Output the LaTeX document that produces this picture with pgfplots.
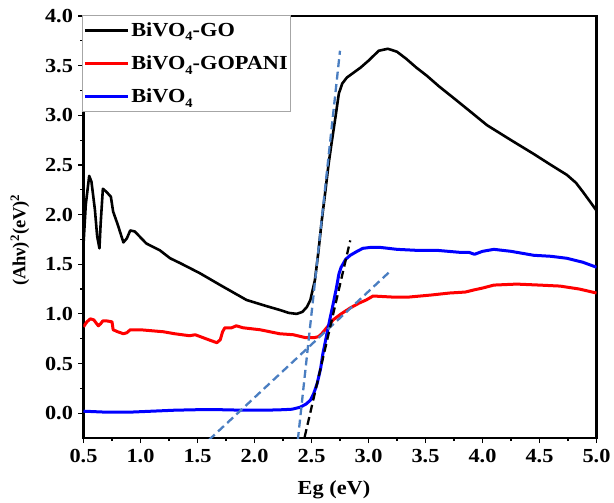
\documentclass[border=0pt]{standalone}
\usepackage{fontspec}
\setmainfont{Liberation Serif}[FakeStretch=1.12]
\newfontfamily\ylabfont{Liberation Serif}
\usepackage{pgfplots}
\pgfplotsset{compat=1.18}
\definecolor{fitblue}{RGB}{74,126,193}
\newcommand\sub[1]{\raisebox{-0.5ex}{\fontsize{13}{13}\selectfont #1}}
\begin{document}
\begin{tikzpicture}
\begin{axis}[
  scale only axis, width=513bp, height=422bp,
  xmin=0.5, xmax=5.0, ymin=-0.25, ymax=4.0,
  xtick={0.5,1.0,1.5,2.0,2.5,3.0,3.5,4.0,4.5,5.0},
  ytick={0,0.5,1.0,1.5,2.0,2.5,3.0,3.5,4.0},
  minor x tick num=1, minor y tick num=1,
  tick align=outside, xtick pos=bottom, ytick pos=left,
  major tick length=5bp, minor tick length=3bp,
  every tick/.style={line width=1.2bp, black},
  axis line style={line width=2.3bp},
  /pgf/number format/assume math mode=true,
  /pgf/number format/.cd, fixed, fixed zerofill, precision=1, /pgfplots/.cd,
  tick label style={font=\fontsize{20}{20}\selectfont\bfseries},
  yticklabel style={xshift=-2bp},
  xticklabel style={yshift=-3bp},
  xlabel={Eg (eV)},
  ylabel={\ylabfont\fontsize{18.5}{18.5}\selectfont\bfseries (Ahν)\textsuperscript{2}(eV)\textsuperscript{2}},
  every axis x label/.style={at={(rel axis cs:0.4883,-0.1232)}, anchor=center, font=\fontsize{20}{20}\selectfont\bfseries},
  every axis y label/.style={at={(rel axis cs:-0.1238,0.469)}, anchor=center, rotate=90},
  legend style={at={(rel axis cs:-0.003,1.002)}, anchor=north west, draw=gray!70, line width=0.8bp, fill=white,
    font=\fontsize{20}{20}\selectfont\bfseries, inner xsep=1bp, inner ysep=5bp,
    /tikz/every row/.style={}, row sep=14bp,
    cells={anchor=west}},
  legend image code/.code={\draw[#1] (0bp,0bp) -- (43bp,0bp);},
]
\coordinate (sw) at (rel axis cs:0,0);
\coordinate (ne) at (rel axis cs:1,1);
\addplot[black, line width=2.6bp, line join=round] coordinates {
(0.50,1.70)(0.52,2.10)(0.55,2.39)(0.57,2.33)(0.60,2.05)(0.62,1.78)(0.64,1.66)(0.65,1.90)(0.67,2.26)(0.70,2.23)(0.74,2.18)(0.76,2.03)(0.80,1.90)(0.85,1.72)(0.88,1.76)(0.91,1.84)(0.95,1.83)(1.00,1.77)(1.05,1.71)(1.10,1.68)(1.17,1.64)(1.26,1.56)(1.35,1.51)(1.52,1.41)(1.70,1.29)(1.93,1.14)(2.10,1.08)(2.22,1.04)(2.30,1.01)(2.37,1.00)(2.42,1.02)(2.46,1.07)(2.49,1.14)(2.53,1.34)(2.56,1.62)(2.59,1.94)(2.62,2.22)(2.65,2.51)(2.68,2.75)(2.71,2.98)(2.74,3.22)(2.77,3.32)(2.81,3.38)(2.87,3.43)(2.93,3.48)(3.00,3.55)(3.09,3.65)(3.17,3.67)(3.25,3.64)(3.33,3.57)(3.42,3.48)(3.51,3.40)(3.62,3.29)(3.74,3.18)(3.88,3.05)(4.04,2.90)(4.25,2.75)(4.45,2.61)(4.60,2.50)(4.74,2.40)(4.82,2.32)(4.88,2.23)(4.95,2.12)(5.00,2.04)
};
\addlegendentry{BiVO\sub{4}-GO}
\addplot[red, line width=3bp, line join=round] coordinates {
(0.50,0.87)(0.53,0.92)(0.56,0.95)(0.59,0.94)(0.63,0.88)(0.65,0.90)(0.67,0.93)(0.70,0.93)(0.75,0.92)(0.76,0.84)(0.80,0.82)(0.85,0.80)(0.88,0.81)(0.91,0.84)(1.00,0.84)(1.20,0.82)(1.30,0.80)(1.43,0.78)(1.48,0.79)(1.55,0.76)(1.62,0.73)(1.67,0.71)(1.70,0.74)(1.72,0.82)(1.74,0.86)(1.80,0.86)(1.84,0.88)(1.90,0.86)(2.05,0.84)(2.22,0.80)(2.34,0.79)(2.45,0.76)(2.52,0.76)(2.56,0.77)(2.59,0.80)(2.64,0.87)(2.69,0.94)(2.76,1.00)(2.84,1.06)(2.92,1.11)(2.98,1.14)(3.04,1.18)(3.20,1.17)(3.36,1.17)(3.55,1.19)(3.71,1.21)(3.85,1.22)(3.92,1.24)(4.00,1.26)(4.10,1.29)(4.30,1.30)(4.50,1.29)(4.68,1.28)(4.85,1.25)(5.00,1.21)
};
\addlegendentry{BiVO\sub{4}-GOPANI}
\addplot[blue, line width=3bp, line join=round] coordinates {
(0.50,0.02)(0.60,0.015)(0.70,0.01)(0.90,0.01)(1.10,0.02)(1.30,0.03)(1.50,0.035)(1.70,0.035)(1.90,0.03)(2.10,0.03)(2.25,0.035)(2.33,0.04)(2.40,0.06)(2.45,0.09)(2.49,0.13)(2.52,0.20)(2.55,0.30)(2.58,0.45)(2.60,0.60)(2.63,0.77)(2.66,0.94)(2.69,1.10)(2.72,1.27)(2.74,1.40)(2.76,1.47)(2.80,1.55)(2.84,1.59)(2.90,1.63)(2.95,1.66)(3.02,1.67)(3.10,1.67)(3.25,1.65)(3.42,1.64)(3.60,1.64)(3.80,1.62)(3.88,1.62)(3.93,1.60)(4.00,1.63)(4.10,1.65)(4.25,1.63)(4.45,1.59)(4.60,1.58)(4.74,1.56)(4.88,1.52)(5.00,1.47)
};
\addlegendentry{BiVO\sub{4}}
\addplot[fitblue, line width=2.3bp, dash pattern=on 8bp off 4.5bp, forget plot] coordinates {(2.38,-0.27)(2.75,3.65)};
\addplot[fitblue, line width=2.3bp, dash pattern=on 8bp off 4.5bp, forget plot] coordinates {(1.60,-0.27)(3.20,1.44)};
\addplot[black, line width=2.3bp, dash pattern=on 8bp off 4.5bp, forget plot] coordinates {(2.44,-0.24)(2.84,1.74)};
\end{axis}
\pgfresetboundingbox
\path ([xshift=-83.5bp,yshift=-65bp]sw) rectangle ([xshift=17.5bp,yshift=16bp]ne);
\end{tikzpicture}
\end{document}
